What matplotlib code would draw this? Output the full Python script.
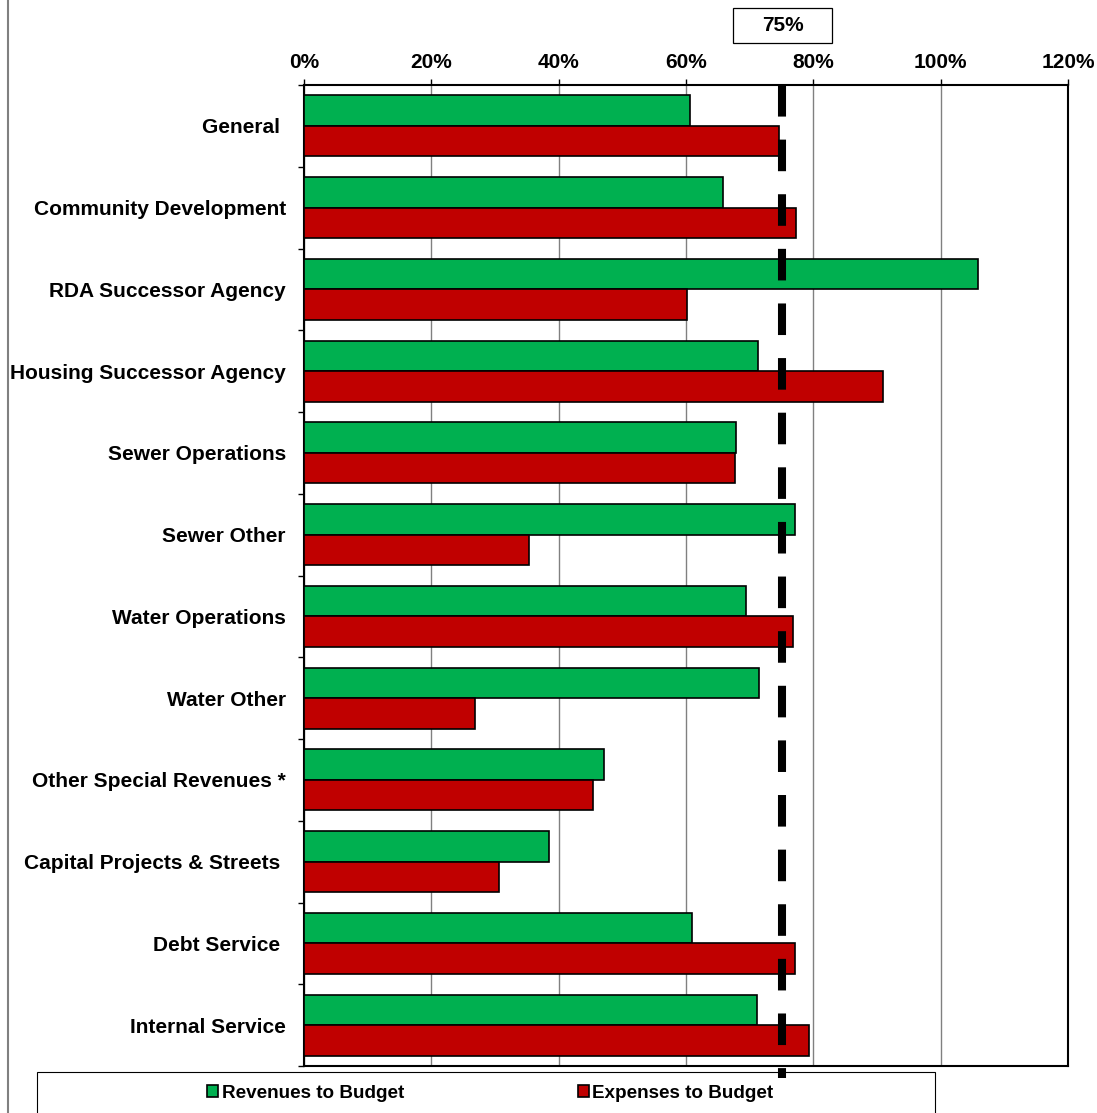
import matplotlib
matplotlib.use("Agg")
import matplotlib.pyplot as plt
from matplotlib.patches import Rectangle
from matplotlib.lines import Line2D
import matplotlib.transforms as mtransforms
import numpy as np

plt.rcParams['font.family'] = ['Liberation Sans', 'DejaVu Sans']
plt.rcParams['font.weight'] = 'bold'

categories = ["General ", "Community Development", "RDA Successor Agency",
              "Housing Successor Agency", "Sewer Operations", "Sewer Other",
              "Water Operations", "Water Other", "Other Special Revenues *",
              "Capital Projects & Streets ", "Debt Service ", "Internal Service"]
revenues = [60.6, 65.8, 105.9, 71.3, 67.9, 77.1, 69.4, 71.5, 47.1, 38.5, 60.9, 71.1]
expenses = [74.6, 77.3, 60.2, 90.9, 67.7, 35.3, 76.8, 26.9, 45.4, 30.6, 77.1, 79.3]
xticks = [0, 20, 40, 60, 80, 100, 120]
target = 75
series_names = ["Revenues to Budget", "Expenses to Budget"]

W, H = 1097, 1113
fig = plt.figure(figsize=(W / 100, H / 100), dpi=100)
ax = fig.add_axes([304 / W, 1 - 1066 / H, (1068 - 304) / W, (1066 - 85) / H])

y = np.arange(len(categories))
bh = 0.372
b1 = ax.barh(y - bh / 2, revenues, height=bh, color='#00B050', edgecolor='black',
             linewidth=1.2, zorder=3, label=series_names[0])
b2 = ax.barh(y + bh / 2, expenses, height=bh, color='#C00000', edgecolor='black',
             linewidth=1.2, zorder=3, label=series_names[1])

ax.set_xlim(0, 120)
ax.set_ylim(len(categories) - 0.5, -0.5)
ax.xaxis.tick_top()
ax.set_xticks(xticks)
ax.set_xticklabels([f"{v}%" for v in xticks], fontsize=15, fontweight='bold')
ax.tick_params(axis='x', which='major', length=4.5, width=1, color='black', pad=5)
ax.grid(axis='x', color='#808080', linewidth=1, zorder=0)
ax.set_axisbelow(True)

ax.set_yticks(y)
ax.set_yticklabels(categories, fontsize=15, fontweight='bold')
ax.tick_params(axis='y', which='major', length=0, pad=13)
ax.set_yticks(np.arange(-0.5, len(categories) + 0.5, 1), minor=True)
ax.tick_params(axis='y', which='minor', length=4.5, width=1, color='black')

for s in ax.spines.values():
    s.set_linewidth(1.5)
    s.set_color('black')

# 75% target dashed line
trans = mtransforms.blended_transform_factory(ax.transData, ax.transAxes)
ax.plot([target, target], [1, -(1078 - 1066) / (1066 - 85)], transform=trans,
        color='black', linewidth=5.8, dashes=(3.92, 2.86), solid_capstyle='butt',
        dash_capstyle='butt', zorder=6, clip_on=False)

# 75% label box
fig.patches.append(Rectangle((733 / W, 1 - 43 / H), (832 - 733) / W, 35 / H,
                             transform=fig.transFigure, facecolor='white',
                             edgecolor='black', linewidth=0.9))
fig.text(782.5 / W, 1 - 25.5 / H, f"{target}%", ha='center', va='center',
         fontsize=15, fontweight='bold')

# legend box
fig.patches.append(Rectangle((37 / W, -0.01), (935 - 37) / W, (1113 - 1072) / H + 0.01,
                             transform=fig.transFigure, facecolor='none',
                             edgecolor='black', linewidth=0.8, zorder=0))
leg = fig.legend(handles=[b1, b2], labels=series_names, ncol=2, frameon=False,
                 loc='center left', bbox_to_anchor=(207 / W, 1 - 1093 / H),
                 borderpad=0, borderaxespad=0, handlelength=0.58, handleheight=0.58,
                 handletextpad=0.2, columnspacing=9.2,
                 prop={'size': 13.6, 'weight': 'bold'})

# left outer border
fig.add_artist(Line2D([8 / W, 8 / W], [0, 1], transform=fig.transFigure,
                      color='#808080', linewidth=1.5))

fig.savefig("out.png", dpi=100)
